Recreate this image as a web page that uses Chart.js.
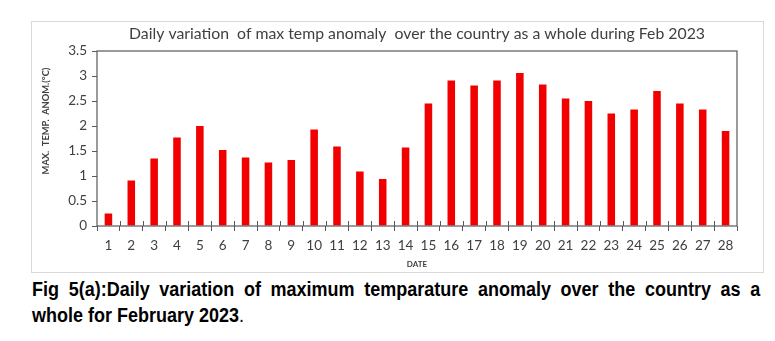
<!DOCTYPE html>
<html>
<head>
<meta charset="utf-8">
<script src="https://cdn.jsdelivr.net/npm/chart.js@4/dist/chart.umd.min.js"></script>
<style>
  body { margin: 0; background: #fff; width: 775px; height: 341px; position: relative; overflow: hidden; }
  .chart-box {
    position: absolute; left: 31px; top: 21px;
    width: 731px; height: 250px;
    border: 1px solid #d9d9d9;
  }
  /* narrow bold caption: Liberation Sans squeezed horizontally */
  .caption {
    position: absolute; left: 32px; top: 276px; width: 789px;
    transform: scaleX(0.923); transform-origin: left top;
    font-family: "Liberation Sans", Arial, sans-serif;
    font-size: 19.5px; line-height: 26px; color: #000;
    text-align: justify;
  }
</style>
</head>
<body>
<div class="chart-box"><canvas id="myChart"></canvas></div>
<div class="caption"><b>Fig 5(a):Daily variation of maximum temparature anomaly over the country as a whole for February 2023</b>.</div>

<script>
const days = ["1", "2", "3", "4", "5", "6", "7", "8", "9", "10", "11", "12", "13", "14",
              "15", "16", "17", "18", "19", "20", "21", "22", "23", "24", "25", "26", "27", "28"];
const maxTempAnomaly = [0.25, 0.91, 1.35, 1.77, 2.0, 1.52, 1.37, 1.27, 1.32, 1.93, 1.59, 1.09, 0.94, 1.57,
                        2.45, 2.91, 2.81, 2.91, 3.06, 2.83, 2.55, 2.5, 2.25, 2.33, 2.7, 2.45, 2.33, 1.9];
const yTicks = [0, 0.5, 1, 1.5, 2, 2.5, 3, 3.5];

const chartTitle = "Daily variation  of max temp anomaly  over the country as a whole during Feb 2023";
const yTitle = "MAX.  TEMP.  ANOM.(\u00B0C)";
const xTitle = "DATE";

const axisColor = "#595959";
const textColor = "#404040";

// plot frame, inner half of the x tick marks, chart title (centred on the plot) and y title
const framePlugin = {
  id: "frame",
  afterDatasetsDraw(chart) {
    const { ctx, chartArea: a, scales } = chart;
    ctx.save();
    ctx.strokeStyle = axisColor;
    ctx.lineWidth = 1.2;
    ctx.strokeRect(a.left, a.top, a.right - a.left, a.bottom - a.top);

    const x = scales.x;
    const step = x.width / days.length;
    ctx.lineWidth = 1;
    for (let i = 1; i < days.length; i++) {
      const px = Math.round(x.left + i * step) + 0.5;
      ctx.beginPath();
      ctx.moveTo(px, a.bottom - 5);
      ctx.lineTo(px, a.bottom);
      ctx.stroke();
    }

    ctx.fillStyle = textColor;
    ctx.textAlign = "center";
    ctx.textBaseline = "middle";
    ctx.font = "15.8px Lato";
    ctx.fillText(chartTitle, (a.left + a.right) / 2, a.top - 17.5);

    ctx.translate(13.5, a.top + (a.bottom - a.top) * 0.4);
    ctx.rotate(-Math.PI / 2);
    ctx.font = "bold 9.3px Lato";
    ctx.fillText(yTitle, 0, 0);
    ctx.restore();
  }
};

new Chart(document.getElementById("myChart"), {
  type: "bar",
  data: {
    labels: days,
    datasets: [
      {
        data: maxTempAnomaly,
        backgroundColor: "#f20000",
        borderWidth: 0,
        barPercentage: 0.33,
        categoryPercentage: 1
      }
    ]
  },
  options: {
    responsive: true,
    maintainAspectRatio: false,
    animation: false,
    layout: { padding: { left: 0, right: 26, top: 29, bottom: 0 } },
    plugins: {
      legend: { display: false },
      tooltip: { enabled: false },
      title: { display: false }
    },
    scales: {
      x: {
        afterFit(scale) { scale.height = 46; },
        grid: { display: true, offset: true, drawOnChartArea: false, tickLength: 5, color: axisColor },
        border: { display: false },
        ticks: { color: textColor, font: { family: "Lato", size: 13.5 }, padding: 7, maxRotation: 0, autoSkip: false },
        title: {
          display: true,
          text: xTitle,
          color: textColor,
          font: { family: "Lato", size: 8, weight: "bold" },
          padding: { top: 0, bottom: 3 }
        }
      },
      y: {
        min: 0,
        max: 3.5,
        afterFit(scale) { scale.width = 65; },
        afterBuildTicks(scale) { scale.ticks = yTicks.map(v => ({ value: v })); },
        grid: { display: true, drawOnChartArea: false, tickLength: 5, color: axisColor },
        border: { display: false },
        ticks: {
          color: textColor,
          font: { family: "Lato", size: 13.5 },
          padding: 5,
          callback: value => String(value)
        }
      }
    }
  },
  plugins: [framePlugin]
});
</script>
</body>
</html>
